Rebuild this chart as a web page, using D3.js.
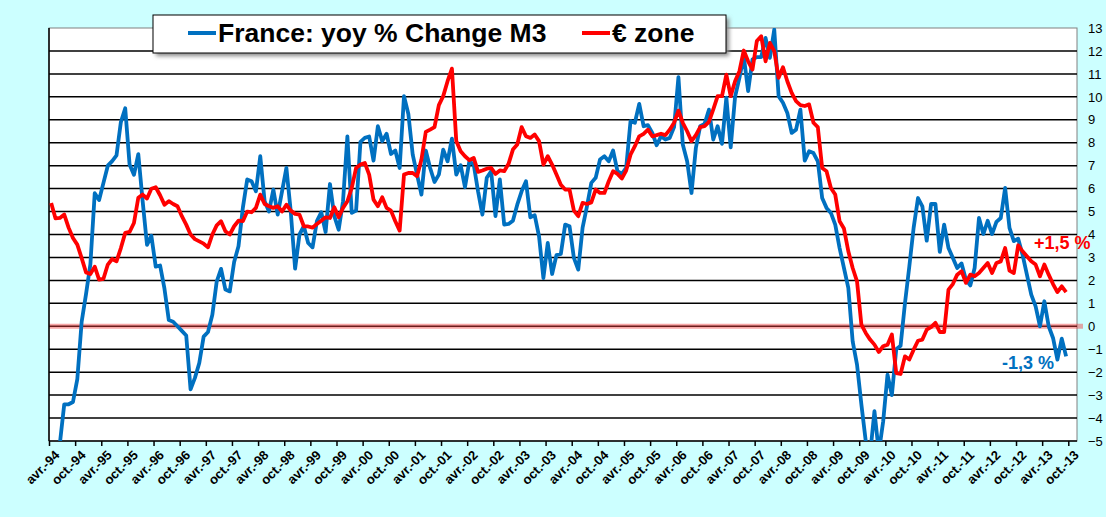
<!DOCTYPE html>
<html>
<head>
<meta charset="utf-8">
<script src="https://cdn.jsdelivr.net/npm/d3@7"></script>
<style>
  html, body { margin: 0; padding: 0; background: #ccffff; }
  svg { display: block; font-family: "Liberation Sans", Arial, sans-serif; }
</style>
</head>
<body>
<script>
const width = 1106, height = 517;

// monthly yoy % change of M3, from avr.-94 (index 0) to sept.-13 (index 233)
const france = [
  -7.5, -6.4, -5.1, -3.4, -3.4, -3.3, -2.3, 0.2, 1.4, 2.7,
  5.8, 5.5, 6.25, 7.0, 7.2, 7.45, 8.9, 9.5, 7.05, 6.6,
  7.5, 5.45, 3.55, 3.95, 2.6, 2.65, 1.65, 0.27, 0.2, 0.0,
  -0.2, -0.4, -2.75, -2.25, -1.6, -0.45, -0.25, 0.5, 1.95, 2.5,
  1.6, 1.52, 2.8, 3.49, 5.16, 6.4, 6.32, 5.88, 7.41, 5.45,
  5.0, 5.96, 4.87, 5.88, 6.9, 5.0, 2.51, 4.0, 4.36, 3.63,
  3.44, 4.58, 4.97, 4.11, 6.2, 4.8, 4.21, 5.45, 8.28, 4.94,
  5.04, 8.04, 8.21, 8.27, 7.22, 8.72, 8.07, 8.39, 7.51, 7.66,
  6.9, 10.03, 9.25, 7.48, 6.61, 5.74, 7.66, 6.9, 6.29, 6.61,
  7.7, 7.19, 8.18, 6.61, 7.02, 6.06, 7.19, 7.05, 5.88, 4.87,
  6.47, 6.76, 4.8, 6.4, 4.43, 4.46, 4.6, 5.3, 5.88, 6.32,
  4.75, 4.84, 3.92, 2.1, 3.63, 2.28, 3.1, 3.15, 4.43, 4.36,
  2.98, 2.47, 4.3, 5.23, 6.25, 6.47, 7.27, 7.41, 7.19, 7.66,
  6.76, 6.64, 6.9, 8.94, 8.87, 9.69, 8.72, 8.77, 8.43, 7.89,
  8.28, 8.14, 8.21, 8.68, 10.86, 7.92, 7.19, 5.81, 7.77, 8.72,
  8.82, 9.44, 8.14, 8.72, 7.95, 9.96, 7.8, 10.0, 10.83, 11.77,
  10.25, 11.63, 11.73, 11.73, 12.57, 11.7, 12.93, 10.03, 9.74, 9.3,
  8.43, 8.57, 9.44, 7.22, 7.63, 7.55, 7.19, 5.59, 5.16, 4.94,
  4.43, 3.41, 2.54, 1.67, -0.66, -1.67, -3.41, -5.0, -5.6, -3.7,
  -5.5, -4.15, -2.11, -3.0, -1.0, -0.85, 1.0, 2.6, 4.3, 5.59,
  5.23, 3.73, 5.33, 5.33, 3.24, 4.43, 3.41, 2.98, 2.54, 2.74,
  2.03, 1.78, 2.54, 4.72, 4.02, 4.6, 4.02, 4.55, 4.72, 6.03,
  4.29, 3.71, 3.82, 3.12, 2.25, 1.38, 0.87, 0.0, 1.09, 0.0,
  -0.51, -1.45, -0.54, -1.31
];

const euroZone = [
  5.37, 4.7, 4.72, 4.87, 4.3, 3.85, 3.56, 2.97, 2.35, 2.28,
  2.6, 2.03, 2.07, 2.69, 2.93, 2.83, 3.41, 4.07, 4.11, 4.5,
  5.6, 5.74, 5.57, 5.99, 6.06, 5.71, 5.3, 5.45, 5.33, 5.23,
  4.8, 4.43, 4.0, 3.8, 3.7, 3.6, 3.44, 4.0, 4.4, 4.58,
  4.14, 4.0, 4.36, 4.6, 4.58, 5.0, 4.97, 5.16, 5.74, 5.33,
  5.23, 5.16, 5.23, 5.0, 5.3, 5.04, 4.9, 4.87, 4.36, 4.35,
  4.3, 4.46, 4.6, 4.75, 4.72, 5.19, 4.75, 5.16, 5.45, 6.03,
  6.9, 7.05, 7.12, 6.61, 5.52, 5.23, 5.62, 5.16, 5.04, 4.58,
  4.17, 6.61, 6.68, 6.68, 6.54, 7.27, 8.47, 8.57, 8.68, 9.64,
  10.03, 10.68, 11.23, 8.07, 7.63, 7.41, 7.24, 7.34, 6.73, 6.79,
  6.87, 6.9, 6.64, 6.79, 6.76, 7.08, 7.7, 7.92, 8.68, 8.28,
  8.21, 8.36, 8.07, 7.05, 7.41, 7.05, 6.61, 6.17, 5.96, 5.96,
  5.04, 4.8, 5.38, 5.33, 5.4, 5.96, 5.81, 5.81, 6.32, 6.76,
  6.64, 6.44, 6.79, 7.48, 7.85, 8.28, 8.39, 8.57, 8.28, 8.33,
  8.39, 8.33, 8.57, 8.87, 9.4, 8.87, 8.5, 8.07, 8.33, 8.68,
  8.72, 8.91, 9.45, 10.03, 10.03, 10.97, 10.03, 10.68, 11.12, 12.02,
  11.55, 11.19, 12.43, 12.64, 11.55, 12.35, 11.99, 10.83, 11.29, 10.68,
  10.17, 9.81, 9.64, 9.6, 9.67, 8.87, 8.68, 6.9, 6.76, 6.03,
  5.74, 4.58, 4.26, 3.27, 2.54, 1.96, 0.07, -0.29, -0.58, -0.8,
  -1.12, -0.87, -0.8, -0.36, -2.04, -2.08, -1.31, -1.45, -1.02, -0.63,
  -0.58, -0.15, -0.04, 0.15, -0.25, -0.25, 1.6, 1.84, 2.25, 2.4,
  1.89, 2.25, 2.18, 2.32, 2.54, 2.76, 2.32, 2.76, 2.83, 3.41,
  2.43, 2.32, 3.53, 3.27, 3.05, 2.83, 2.69, 2.18, 2.69, 2.25,
  1.84, 1.49, 1.74, 1.49
];

const xLabels = [
  "avr.-94", "oct.-94", "avr.-95", "oct.-95", "avr.-96", "oct.-96", "avr.-97", "oct.-97",
  "avr.-98", "oct.-98", "avr.-99", "oct.-99", "avr.-00", "oct.-00", "avr.-01", "oct.-01",
  "avr.-02", "oct.-02", "avr.-03", "oct.-03", "avr.-04", "oct.-04", "avr.-05", "oct.-05",
  "avr.-06", "oct.-06", "avr.-07", "oct.-07", "avr.-08", "oct.-08", "avr.-09", "oct.-09",
  "avr.-10", "oct.-10", "avr.-11", "oct.-11", "avr.-12", "oct.-12", "avr.-13", "oct.-13"
];
const yTicks = d3.range(-5, 14);
const seriesNames = ["France: yoy % Change M3", "\u20ac zone"];
const lastLabels = ["-1,3 %", "+1,5 %"];

const blue = "#0070c0", red = "#ff0000";
const plotLeft = 49, plotTop = 28, plotRight = 1077, plotBottom = 441;

const svg = d3.select("body").append("svg").attr("width", width).attr("height", height);

const x = d3.scaleLinear().domain([0, 236]).range([plotLeft, plotRight]);
const y = d3.scaleLinear().domain([-5, 13]).range([plotBottom, plotTop]);

const defs = svg.append("defs");
defs.append("clipPath").attr("id", "plotClip")
  .append("rect").attr("x", plotLeft).attr("y", plotTop)
  .attr("width", plotRight - plotLeft).attr("height", plotBottom - plotTop);
defs.append("filter").attr("id", "shadow")
  .attr("x", "-10%").attr("y", "-50%").attr("width", "120%").attr("height", "200%")
  .append("feGaussianBlur").attr("stdDeviation", 2);

// plot area
svg.append("rect")
  .attr("x", plotLeft).attr("y", plotTop)
  .attr("width", plotRight - plotLeft).attr("height", plotBottom - plotTop)
  .attr("fill", "#ffffff").attr("stroke", "#808080").attr("stroke-width", 1);

// gridlines
svg.append("g").selectAll("line")
  .data(yTicks.filter(d => d > -5 && d < 13))
  .enter().append("line")
  .attr("x1", plotLeft).attr("x2", plotRight)
  .attr("y1", d => y(d)).attr("y2", d => y(d))
  .attr("stroke", "#000").attr("stroke-width", 1.5);

// zero line highlight
svg.append("line")
  .attr("x1", plotLeft).attr("x2", plotRight + 6)
  .attr("y1", y(0)).attr("y2", y(0))
  .attr("stroke", "rgba(240,60,60,0.45)").attr("stroke-width", 5);

// y axis labels on the right
const yAxis = d3.axisRight(y).tickValues(yTicks).tickSize(0).tickPadding(3).tickFormat(d3.format("d"));
const gy = svg.append("g").attr("transform", `translate(${plotRight + 8},0)`).call(yAxis);
gy.select(".domain").remove();
gy.selectAll("text").attr("font-size", 13).attr("fill", "#000")
  .attr("font-family", "'Liberation Sans', Arial, sans-serif");

// x axis
const xAxis = d3.axisBottom(x)
  .tickValues(d3.range(0, 235, 6))
  .tickSize(5)
  .tickFormat((d, i) => xLabels[i]);
const gx = svg.append("g").attr("transform", `translate(0,${plotBottom})`).call(xAxis);
gx.select(".domain").remove();
gx.selectAll(".tick line").attr("stroke", "#000").attr("stroke-width", 1.5);
gx.selectAll(".tick text")
  .attr("font-size", 13).attr("font-weight", "bold").attr("fill", "#000")
  .attr("font-family", "'Liberation Sans', Arial, sans-serif")
  .attr("text-anchor", "end")
  .attr("y", 0).attr("dy", "0.75em")
  .attr("transform", "translate(4,8) rotate(-45)");

// axis lines
svg.append("line").attr("x1", plotLeft).attr("x2", plotRight).attr("y1", plotBottom).attr("y2", plotBottom)
  .attr("stroke", "#000").attr("stroke-width", 1.5);
svg.append("line").attr("x1", plotLeft).attr("x2", plotLeft).attr("y1", plotTop).attr("y2", plotBottom)
  .attr("stroke", "#000").attr("stroke-width", 1.5);

// series
const line = d3.line().x((d, i) => x(i + 0.5)).y(d => y(d));
const lines = svg.append("g").attr("clip-path", "url(#plotClip)");
lines.append("path").datum(france).attr("d", line)
  .attr("fill", "none").attr("stroke", blue).attr("stroke-width", 3.8)
  .attr("stroke-linejoin", "round");
lines.append("path").datum(euroZone).attr("d", line)
  .attr("fill", "none").attr("stroke", red).attr("stroke-width", 3.8)
  .attr("stroke-linejoin", "round");

// end labels
svg.append("text").attr("x", x(218.8)).attr("y", y(-1.86))
  .attr("font-size", 18).attr("font-weight", "bold").attr("fill", blue)
  .text(lastLabels[0]);
svg.append("text").attr("x", x(226.1)).attr("y", y(3.37))
  .attr("font-size", 18).attr("font-weight", "bold").attr("fill", red)
  .text(lastLabels[1]);

// legend
const legend = svg.append("g");
legend.append("rect").attr("x", 156).attr("y", 18).attr("width", 573).attr("height", 38)
  .attr("fill", "#888").attr("filter", "url(#shadow)");
legend.append("rect").attr("x", 153).attr("y", 15).attr("width", 573).attr("height", 38)
  .attr("fill", "#fff").attr("stroke", "#000").attr("stroke-width", 1);
const legendItems = [
  { name: seriesNames[0], color: blue, x: 188 },
  { name: seriesNames[1], color: red, x: 582 }
];
legend.selectAll(".item").data(legendItems).enter().append("g").attr("class", "item")
  .each(function(d) {
    const g = d3.select(this);
    g.append("line").attr("x1", d.x).attr("x2", d.x + 28).attr("y1", 33).attr("y2", 33)
      .attr("stroke", d.color).attr("stroke-width", 4);
    g.append("text").attr("x", d.x + 30).attr("y", 42)
      .attr("font-size", 26.5).attr("font-weight", "bold").attr("fill", "#000")
      .text(d.name);
  });
</script>
</body>
</html>
